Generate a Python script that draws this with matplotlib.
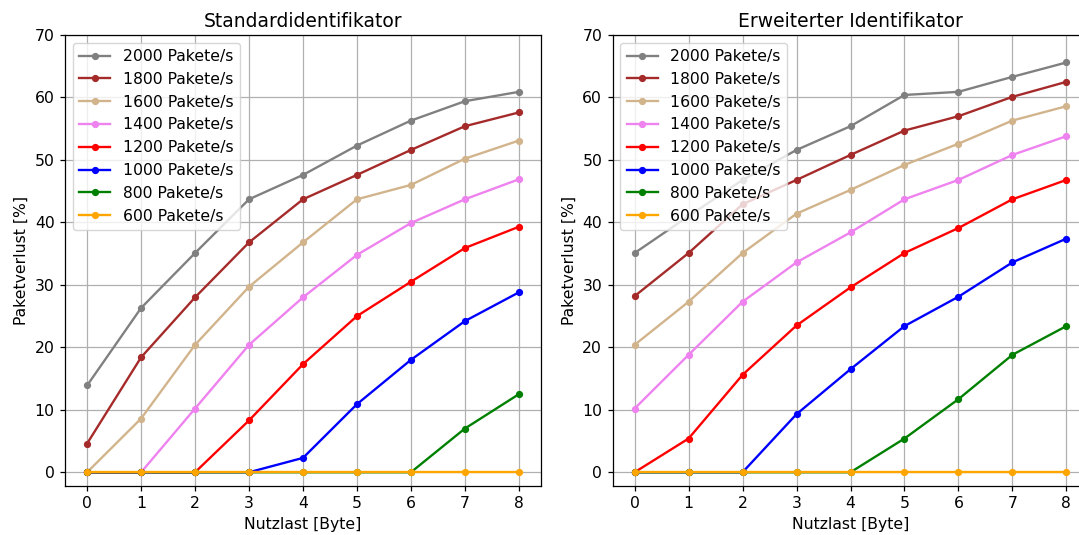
import matplotlib
matplotlib.use("Agg")
import matplotlib.pyplot as plt

x_payload = [0, 1, 2, 3, 4, 5, 6, 7, 8]
rates = ["2000 Pakete/s", "1800 Pakete/s", "1600 Pakete/s", "1400 Pakete/s",
         "1200 Pakete/s", "1000 Pakete/s", "800 Pakete/s", "600 Pakete/s"]
colors = ["grey", "brown", "tan", "violet", "red", "blue", "green", "orange"]

std_2000 = [13.9, 26.3, 35.1, 43.7, 47.6, 52.3, 56.3, 59.4, 60.9]
std_1800 = [4.6, 18.4, 28.0, 36.8, 43.7, 47.6, 51.6, 55.4, 57.6]
std_1600 = [0.0, 8.6, 20.4, 29.7, 36.8, 43.7, 46.0, 50.2, 53.1]
std_1400 = [0.0, 0.0, 10.2, 20.4, 28.0, 34.8, 39.9, 43.7, 46.9]
std_1200 = [0.0, 0.0, 0.0, 8.3, 17.3, 25.0, 30.5, 35.9, 39.3]
std_1000 = [0.0, 0.0, 0.0, 0.0, 2.3, 10.9, 18.0, 24.2, 28.8]
std_800 = [0.0, 0.0, 0.0, 0.0, 0.0, 0.0, 0.0, 7.0, 12.5]
std_600 = [0.0, 0.0, 0.0, 0.0, 0.0, 0.0, 0.0, 0.0, 0.0]

ext_2000 = [35.1, 41.0, 46.8, 51.6, 55.4, 60.4, 60.9, 63.3, 65.6]
ext_1800 = [28.2, 35.1, 42.9, 46.8, 50.8, 54.7, 57.0, 60.1, 62.5]
ext_1600 = [20.4, 27.3, 35.1, 41.4, 45.2, 49.2, 52.6, 56.3, 58.6]
ext_1400 = [10.2, 18.8, 27.3, 33.6, 38.4, 43.7, 46.8, 50.8, 53.8]
ext_1200 = [0.0, 5.4, 15.6, 23.5, 29.6, 35.1, 39.1, 43.7, 46.8]
ext_1000 = [0.0, 0.0, 0.0, 9.3, 16.5, 23.4, 28.1, 33.6, 37.4]
ext_800 = [0.0, 0.0, 0.0, 0.0, 0.0, 5.4, 11.7, 18.8, 23.4]
ext_600 = [0.0, 0.0, 0.0, 0.0, 0.0, 0.0, 0.0, 0.0, 0.0]

std_series = [std_2000, std_1800, std_1600, std_1400, std_1200, std_1000, std_800, std_600]
ext_series = [ext_2000, ext_1800, ext_1600, ext_1400, ext_1200, ext_1000, ext_800, ext_600]

s = 1.125
plt.rcParams.update({
    "font.size": 10 * s,
    "axes.titlesize": 12 * s,
    "axes.linewidth": 0.8 * s,
    "grid.linewidth": 0.8 * s,
    "xtick.major.width": 0.8 * s,
    "ytick.major.width": 0.8 * s,
    "xtick.major.size": 3.5 * s,
    "ytick.major.size": 3.5 * s,
})

W, H = 1079, 535
fig = plt.figure(figsize=(W / 100, H / 100), dpi=100)

ax1 = fig.add_axes([65 / W, (H - 486) / H, 476 / W, 451 / H])
ax2 = fig.add_axes([612.5 / W, (H - 486) / H, 476 / W, 451 / H])

for ax, series, title in [(ax1, std_series, "Standardidentifikator"),
                          (ax2, ext_series, "Erweiterter Identifikator")]:
    for vals, lab, col in zip(series, rates, colors):
        ax.plot(x_payload, vals, marker="o", markersize=4.2, linewidth=1.5 * s,
                color=col, label=lab)
    ax.set_title(title)
    ax.set_xlabel("Nutzlast [Byte]")
    ax.set_ylabel("Paketverlust [%]")
    ax.set_xticks(x_payload)
    ax.set_yticks([0, 10, 20, 30, 40, 50, 60, 70])
    ax.set_xlim(-0.41, 8.41)
    ax.set_ylim(-2.2, 70)
    ax.grid(True)
    ax.legend(loc="upper left")

fig.savefig("out.png", dpi=100)
